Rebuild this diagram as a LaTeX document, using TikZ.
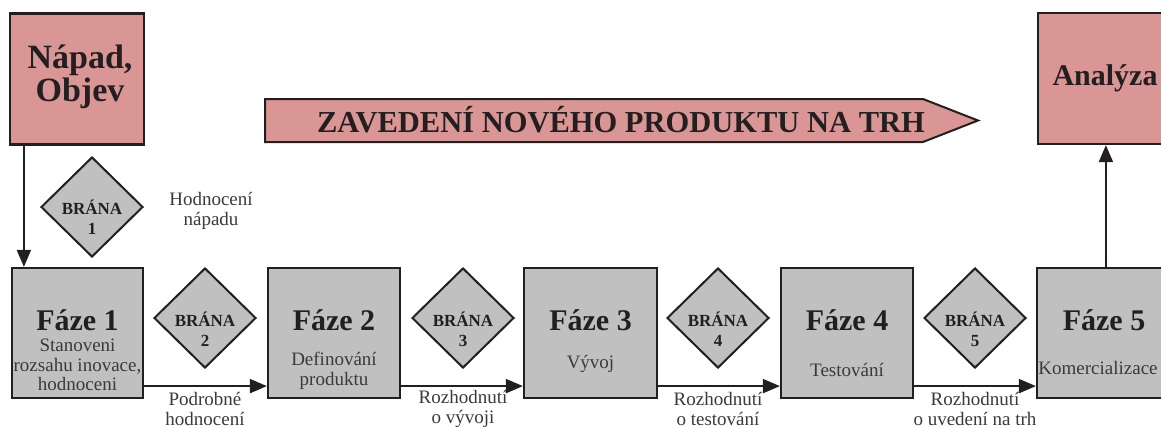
\documentclass[tikz,border=0pt]{standalone}
\usepackage{fontspec}
\setmainfont{Liberation Serif}
\usetikzlibrary{shapes.geometric,arrows.meta}
\definecolor{rosefill}{HTML}{D99694}
\definecolor{greyfill}{HTML}{C0C0C0}
\definecolor{edge}{HTML}{231F20}
\definecolor{ink}{HTML}{231F20}
\definecolor{softink}{HTML}{3A3A3A}

\tikzset{
  stagebox/.style={draw=edge, line width=2.2pt, fill=greyfill,
    minimum width=132pt, minimum height=130pt, inner sep=0pt},
  pinkbox/.style={draw=edge, line width=2.2pt, fill=rosefill,
    minimum width=134pt, minimum height=131pt, inner sep=0pt},
  gate/.style={diamond, aspect=1, draw=edge, line width=2pt, fill=greyfill,
    minimum width=102pt, minimum height=100pt, inner sep=0pt},
  gatetext/.style={font=\fontsize{17}{20}\selectfont\bfseries, align=center,
    text=ink, inner sep=0pt},
  phasetitle/.style={font=\fontsize{30}{34}\selectfont\bfseries, text=ink,
    inner sep=0pt, anchor=base},
  bigtitle/.style={font=\fontsize{34}{33}\selectfont\bfseries, text=ink,
    inner sep=0pt, align=center},
  note/.style={font=\fontsize{19}{20}\selectfont, align=center,
    text=softink, inner sep=0pt},
  flow/.style={draw=edge, line width=2pt,
    -{Triangle[length=17pt,width=14pt]}},
}

\begin{document}
\begin{tikzpicture}[x=1pt,y=-1pt]
\useasboundingbox (0,0) rectangle (1161,428);

% idea and analysis boxes
\node[pinkbox] (idea) at (77,79) {};
\node[bigtitle] (ideatext) at (80,77) {Nápad,\\Objev};
\node[pinkbox] (analysis) at (1105,78.5) {};
\node[phasetitle] (analysistext) at (1105,85) {Analýza};

% banner arrow
\coordinate (bnw) at (265,99);
\coordinate (bne) at (923,99);
\coordinate (btip) at (978,120.5);
\coordinate (bse) at (923,142);
\coordinate (bsw) at (265,142);
\draw[draw=edge, line width=2pt, fill=rosefill, line join=miter]
  (bnw) -- (bne) -- (btip) -- (bse) -- (bsw) -- cycle;
\node[phasetitle, font=\fontsize{30.5}{34}\selectfont\bfseries] (bannertext) at (621,132)
  {ZAVEDENÍ NOVÉHO PRODUKTU NA TRH};

% phase boxes
\node[stagebox, minimum width=131pt] (f1) at (77.5,333) {};
\node[stagebox] (f2) at (334,333) {};
\node[stagebox, minimum width=133pt] (f3) at (590.5,333) {};
\node[stagebox] (f4) at (847,333) {};
\node[stagebox, minimum width=133pt] (f5) at (1103.5,333) {};

\node[phasetitle] (f1t) at (77.5,330) {Fáze 1};
\node[phasetitle] (f2t) at (334,330) {Fáze 2};
\node[phasetitle] (f3t) at (590.5,330) {Fáze 3};
\node[phasetitle] (f4t) at (847,330) {Fáze 4};
\node[phasetitle] (f5t) at (1104,330) {Fáze 5};

\node[note, font=\fontsize{19}{19.5}\selectfont] (f1d) at (77.5,365) {Stanoveni\\rozsahu inovace,\\hodnoceni};
\node[note] (f2d) at (334,371) {Definování\\produktu};
\node[note, anchor=base] (f3d) at (590.5,368) {Vývoj};
\node[note, anchor=base] (f4d) at (847,376) {Testování};
\node[note, anchor=base] (f5d) at (1098,374) {Komercializace};

% gates
\node[gate] (g1) at (92,207) {};
\node[gate] (g2) at (205,318) {};
\node[gate] (g3) at (463,318) {};
\node[gate] (g4) at (718,318) {};
\node[gate] (g5) at (975,318) {};
\node[gatetext] (g1t) at (92,217) {BRÁNA\\1};
\node[gatetext] (g2t) at (205,329) {BRÁNA\\2};
\node[gatetext] (g3t) at (463,329) {BRÁNA\\3};
\node[gatetext] (g4t) at (718,329) {BRÁNA\\4};
\node[gatetext] (g5t) at (975,329) {BRÁNA\\5};

% gate decisions
\node[note] (d1) at (211,211) {Hodnocení\\nápadu};
\node[note] (d2) at (205,408.5) {Podrobné\\hodnocení};
\node[note] (d3) at (463,408.5) {Rozhodnutí\\o vývoji};
\node[note] (d4) at (718,408.5) {Rozhodnutí\\o testování};
\node[note] (d5) at (975,408.5) {Rozhodnutí\\o uvedení na trh};

% connectors
\draw[flow] ([xshift=15pt]idea.south west) -- ([xshift=13pt]f1.north west);
\draw[flow] ([yshift=13pt]f1.south east) -- ([yshift=13pt]f2.south west);
\draw[flow] ([yshift=13pt]f2.south east) -- ([yshift=13pt]f3.south west);
\draw[flow] ([yshift=13pt]f3.south east) -- ([yshift=13pt]f4.south west);
\draw[flow] ([yshift=13pt]f4.south east) -- ([yshift=13pt]f5.south west);
\draw[flow] ([xshift=70pt]f5.north west) -- ([xshift=69pt]analysis.south west);
\end{tikzpicture}
\end{document}
